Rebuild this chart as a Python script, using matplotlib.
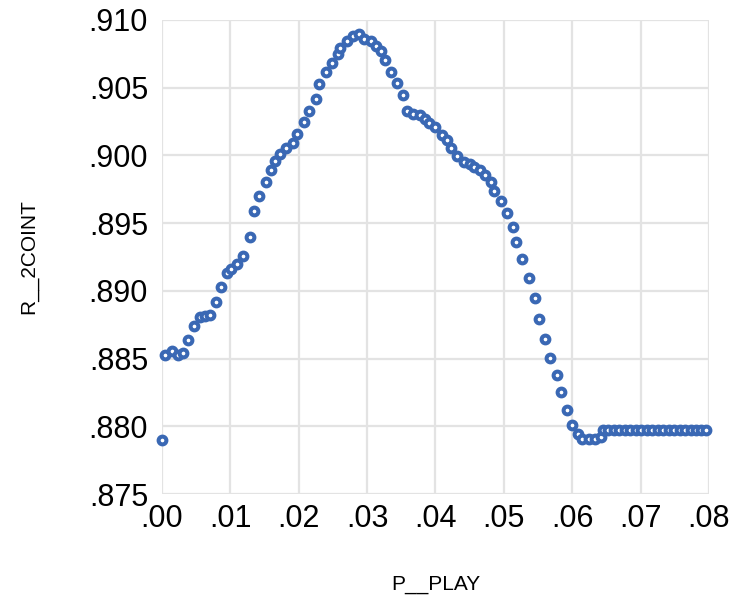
import numpy as np
import matplotlib
matplotlib.use("Agg")
import matplotlib.pyplot as plt

# P__PLAY vs R__2COINT values
p_play = [
    0.0000, 0.0005, 0.0014, 0.0023, 0.0031, 0.0038, 0.0047, 0.0056, 0.0063, 0.0070,
    0.0079, 0.0087, 0.0095, 0.0101, 0.0110, 0.0119, 0.0128, 0.0134, 0.0142, 0.0152,
    0.0160, 0.0166, 0.0173, 0.0182, 0.0191, 0.0198, 0.0207, 0.0215, 0.0225, 0.0230,
    0.0240, 0.0248, 0.0257, 0.0261, 0.0271, 0.0279, 0.0288, 0.0296, 0.0305, 0.0313,
    0.0321, 0.0326, 0.0335, 0.0344, 0.0352, 0.0358, 0.0367, 0.0377, 0.0385, 0.0391,
    0.0399, 0.0409, 0.0417, 0.0422, 0.0432, 0.0441, 0.0450, 0.0456, 0.0465, 0.0472,
    0.0481, 0.0486, 0.0496, 0.0504, 0.0513, 0.0518, 0.0526, 0.0537, 0.0545, 0.0551,
    0.0560, 0.0568, 0.0577, 0.0583, 0.0592, 0.0600, 0.0608, 0.0615, 0.0625, 0.0633,
    0.0642, 0.0645, 0.0653, 0.0661, 0.0669, 0.0677, 0.0685, 0.0693, 0.0701, 0.0709,
    0.0717, 0.0725, 0.0733, 0.0741, 0.0749, 0.0757, 0.0765, 0.0773, 0.0781, 0.0789,
    0.0796,
]
r_2coint = [
    0.87899, 0.88530, 0.88555, 0.88524, 0.88542, 0.88640, 0.88741, 0.88808, 0.88812, 0.88821,
    0.88917, 0.89027, 0.89134, 0.89160, 0.89197, 0.89260, 0.89397, 0.89591, 0.89700, 0.89802,
    0.89889, 0.89962, 0.90012, 0.90056, 0.90089, 0.90156, 0.90244, 0.90329, 0.90420, 0.90528,
    0.90619, 0.90683, 0.90747, 0.90796, 0.90845, 0.90883, 0.90899, 0.90860, 0.90847, 0.90808,
    0.90771, 0.90705, 0.90619, 0.90533, 0.90447, 0.90331, 0.90307, 0.90296, 0.90268, 0.90243,
    0.90209, 0.90152, 0.90117, 0.90056, 0.89995, 0.89955, 0.89938, 0.89914, 0.89889, 0.89853,
    0.89802, 0.89737, 0.89663, 0.89574, 0.89473, 0.89361, 0.89235, 0.89095, 0.88948, 0.88795,
    0.88643, 0.88505, 0.88380, 0.88253, 0.88119, 0.88012, 0.87940, 0.87903, 0.87903, 0.87903,
    0.87923, 0.87976, 0.87976, 0.87976, 0.87976, 0.87976, 0.87976, 0.87976, 0.87976, 0.87976,
    0.87976, 0.87976, 0.87976, 0.87976, 0.87976, 0.87976, 0.87976, 0.87976, 0.87976, 0.87976,
    0.87976,
]

x_ticks = [0.00, 0.01, 0.02, 0.03, 0.04, 0.05, 0.06, 0.07, 0.08]
x_labels = [".00", ".01", ".02", ".03", ".04", ".05", ".06", ".07", ".08"]
y_ticks = [0.875, 0.880, 0.885, 0.890, 0.895, 0.900, 0.905, 0.910]
y_labels = [".875", ".880", ".885", ".890", ".895", ".900", ".905", ".910"]

plt.rcParams["font.family"] = ["Liberation Sans", "DejaVu Sans"]

fig = plt.figure(figsize=(7.36, 5.98), dpi=100)
ax = fig.add_axes([0.2201, 0.1739, 0.7432, 0.7927])

ax.plot(p_play, r_2coint, linestyle="none", marker="o",
        markersize=5.6, markerfacecolor="white",
        markeredgecolor="#3a68b4", markeredgewidth=2.9,
        clip_on=False, zorder=3)

ax.set_xlim(0.0, 0.08)
ax.set_ylim(0.875, 0.910)
ax.set_xticks(x_ticks)
ax.set_xticklabels(x_labels)
ax.set_yticks(y_ticks)
ax.set_yticklabels(y_labels)

ax.grid(True, color="#e3e3e3", linewidth=1.6)
ax.set_axisbelow(True)
for s in ax.spines.values():
    s.set_visible(False)
ax.tick_params(axis="both", length=0, labelsize=22, colors="black")
ax.tick_params(axis="y", pad=10)
ax.tick_params(axis="x", pad=7)

ax.set_xlabel("P__PLAY", fontsize=15, labelpad=30)
ax.set_ylabel("R__2COINT", fontsize=15, labelpad=36)

fig.savefig("out.png", dpi=100)
